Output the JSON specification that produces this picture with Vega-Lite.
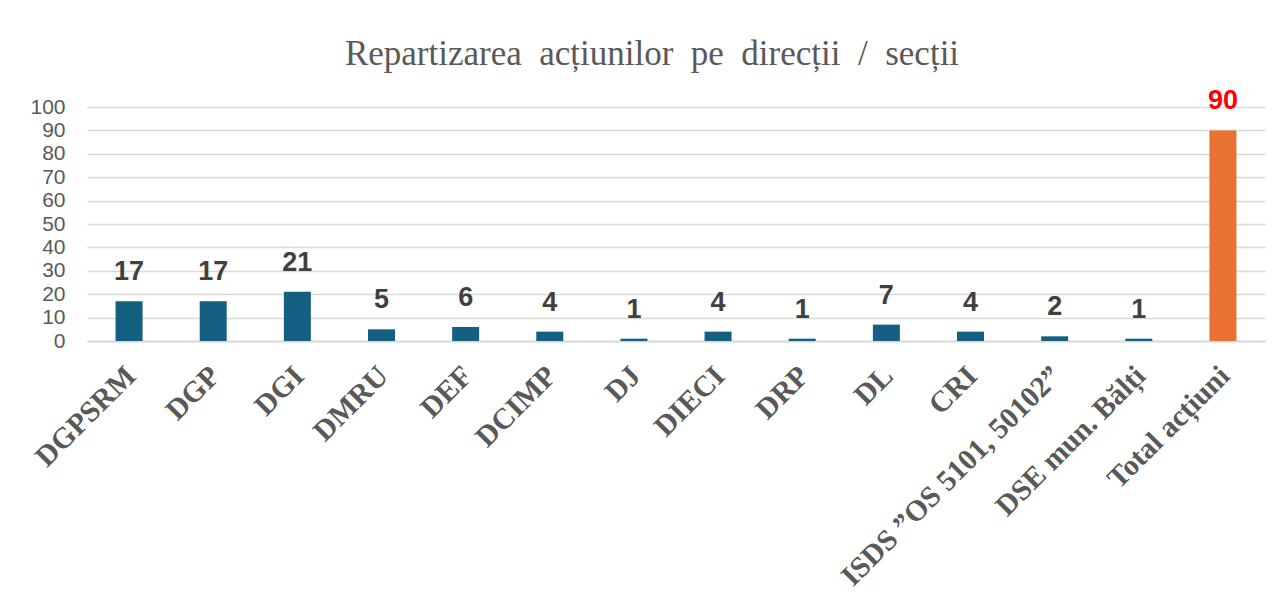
{
  "$schema": "https://vega.github.io/schema/vega-lite/v6.json",
  "width": 1178,
  "height": 234,
  "autosize": {"type": "none"},
  "padding": {"left": 87, "top": 107, "right": 19, "bottom": 263},
  "background": "white",
  "title": {
    "text": "Repartizarea\u00a0\u00a0acțiunilor\u00a0\u00a0pe\u00a0\u00a0direcții\u00a0\u00a0/\u00a0\u00a0secții",
    "font": "Liberation Serif",
    "fontSize": 35,
    "fontWeight": "normal",
    "color": "#595959",
    "anchor": "middle",
    "frame": "group",
    "baseline": "alphabetic",
    "offset": 42,
    "dx": -24,
    "dy": 55
  },
  "data": {
    "values": [
      {"cat": "DGPSRM", "val": 17},
      {"cat": "DGP", "val": 17},
      {"cat": "DGI", "val": 21},
      {"cat": "DMRU", "val": 5},
      {"cat": "DEF", "val": 6},
      {"cat": "DCIMP", "val": 4},
      {"cat": "DJ", "val": 1},
      {"cat": "DIECI", "val": 4},
      {"cat": "DRP", "val": 1},
      {"cat": "DL", "val": 7},
      {"cat": "CRI", "val": 4},
      {"cat": "ISDS ”OS 5101, 50102”", "val": 2},
      {"cat": "DSE mun. Bălți", "val": 1},
      {"cat": "Total acțiuni", "val": 90}
    ]
  },
  "encoding": {
    "x": {
      "field": "cat",
      "type": "nominal",
      "sort": null,
      "scale": {"paddingInner": 0, "paddingOuter": 0},
      "axis": {
        "title": null,
        "labelAngle": -45,
        "labelFont": "Liberation Serif",
        "labelFontWeight": "bold",
        "labelFontSize": 29.5,
        "labelColor": "#595959",
        "labelPadding": 20,
        "labelOffset": -8,
        "ticks": false,
        "domainColor": "#D9D9D9",
        "domainWidth": 2,
        "labelLimit": 0
      }
    },
    "y": {
      "field": "val",
      "type": "quantitative",
      "scale": {"domain": [0, 100]},
      "axis": {
        "title": null,
        "values": [0, 10, 20, 30, 40, 50, 60, 70, 80, 90, 100],
        "labelFont": "Liberation Sans",
        "labelFontSize": 21,
        "labelColor": "#595959",
        "labelPadding": 22,
        "ticks": false,
        "domain": false,
        "gridColor": "#D9D9D9",
        "gridWidth": 1.5
      }
    }
  },
  "layer": [
    {
      "mark": {"type": "bar", "size": 27},
      "encoding": {
        "color": {
          "condition": {"test": "datum.cat === 'Total acțiuni'", "value": "#E97132"},
          "value": "#156082"
        }
      }
    },
    {
      "mark": {
        "type": "text",
        "font": "Liberation Sans",
        "fontSize": 27,
        "fontWeight": "bold",
        "baseline": "alphabetic",
        "dy": -21
      },
      "encoding": {
        "text": {"field": "val", "type": "quantitative"},
        "color": {
          "condition": {"test": "datum.cat === 'Total acțiuni'", "value": "#FF0000"},
          "value": "#404040"
        }
      }
    }
  ],
  "config": {"view": {"stroke": null}}
}
